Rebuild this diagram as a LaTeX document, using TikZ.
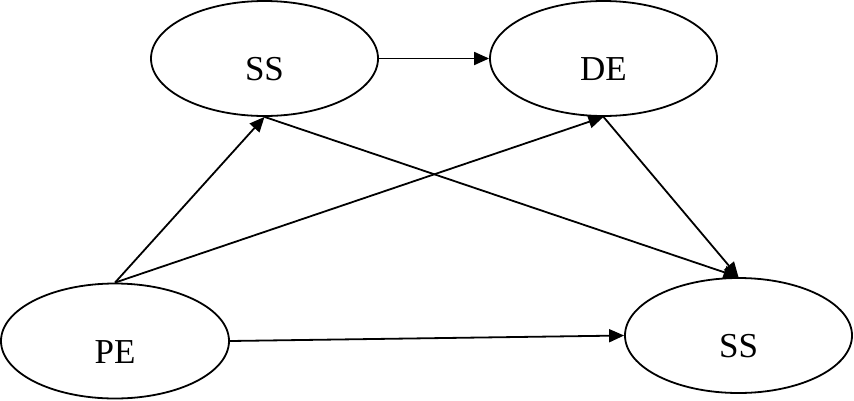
\documentclass[tikz,border=0pt]{standalone}
\usepackage{fontspec}
\setmainfont{Liberation Serif}
\usetikzlibrary{shapes.geometric,arrows.meta}
\begin{document}
\begin{tikzpicture}[x=1pt,y=-1pt,
  ell/.style={draw=black,line width=1.8pt,ellipse,minimum width=227pt,minimum height=115pt,inner sep=0pt},
  lab/.style={font=\fontsize{35}{40}\selectfont,yshift=-11pt},
  arr/.style={line width=1.8pt,-{Triangle[length=15pt,width=13pt]}}]
\useasboundingbox (0,0) rectangle (854,400);
\node[ell,label={[lab,name=tss1]center:SS}] (ss1) at (264.5,58.5) {};
\node[ell,label={[lab,name=tde]center:DE}] (de) at (603.5,58.5) {};
\node[ell,minimum width=228pt,label={[lab,name=tpe]center:PE}] (pe) at (115,341) {};
\node[ell,label={[lab,name=tss2]center:SS}] (ss2) at (738.5,335.5) {};
\draw[arr] (ss1.east) -- (de.west);
\draw[arr] (pe.north) -- (ss1.south);
\draw[arr] (pe.north) -- (de.south);
\draw[arr] (ss1.south) -- (ss2.north);
\draw[arr] (de.south) -- (ss2.north);
\draw[arr] (pe.east) -- (ss2.west);
\end{tikzpicture}
\end{document}
